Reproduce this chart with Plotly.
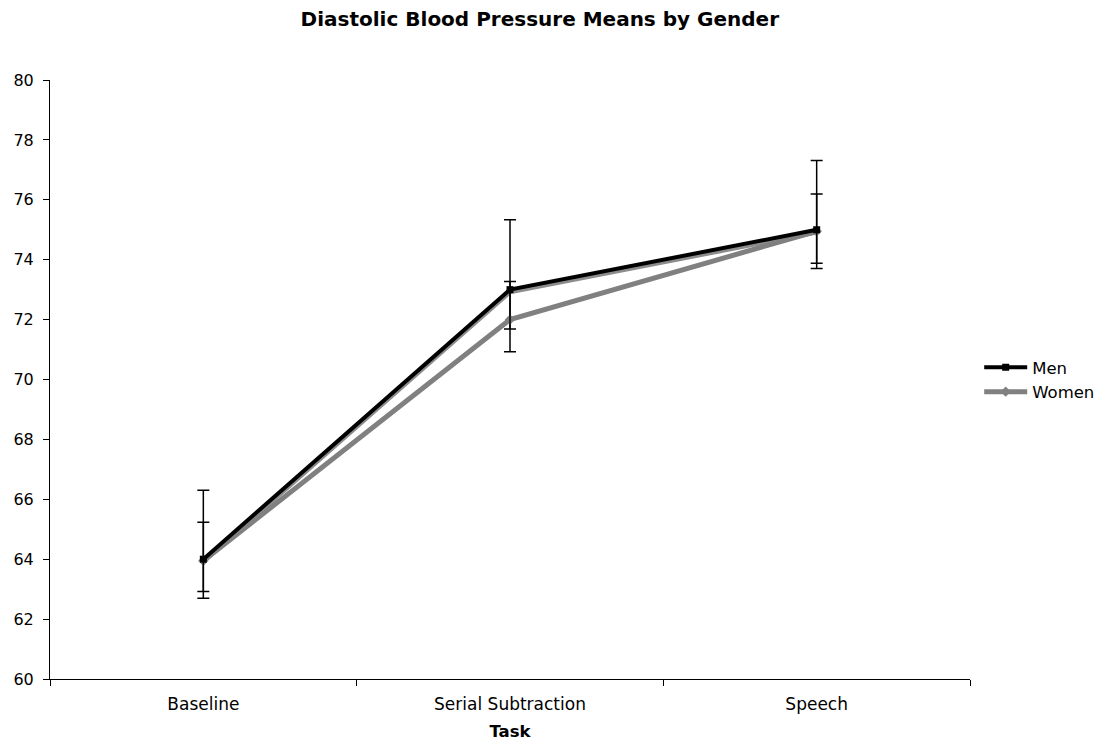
import plotly.graph_objects as go

tasks = ["Baseline", "Serial Subtraction", "Speech"]
men = [64.0, 73.0, 75.0]
women = [63.95, 72.0, 74.95]
men_err_plus = [2.3, 2.33, 2.31]
men_err_minus = [1.3, 1.31, 1.29]
women_err_plus = [1.28, 1.27, 1.24]
women_err_minus = [1.03, 1.07, 1.07]

FONT = "DejaVu Sans, Verdana, sans-serif"

fig = go.Figure()

# subtle shadow under the Men line
fig.add_trace(go.Scatter(
    x=tasks, y=[v - 0.09 for v in men], mode="lines",
    line=dict(color="#8c8c8c", width=4), showlegend=False, hoverinfo="skip"))

fig.add_trace(go.Scatter(
    x=tasks, y=women, mode="lines+markers", name="Women",
    line=dict(color="#808080", width=5),
    marker=dict(symbol="diamond", size=8, color="#808080"),
    error_y=dict(type="data", symmetric=False, array=women_err_plus,
                 arrayminus=women_err_minus, color="black", thickness=1.5, width=6)))

fig.add_trace(go.Scatter(
    x=tasks, y=men, mode="lines+markers", name="Men",
    line=dict(color="black", width=4),
    marker=dict(symbol="square", size=7, color="black"),
    error_y=dict(type="data", symmetric=False, array=men_err_plus,
                 arrayminus=men_err_minus, color="black", thickness=1.5, width=6)))

fig.update_layout(
    width=1113, height=744,
    margin=dict(l=50, r=143, t=80, b=65),
    paper_bgcolor="white", plot_bgcolor="white",
    font=dict(family=FONT, size=16, color="black"),
    title=dict(text="<b>Diastolic Blood Pressure Means by Gender</b>",
               x=0.485, xanchor="center", y=0.984, yanchor="top",
               font=dict(family=FONT, size=20, color="black")),
    legend=dict(x=1.01, y=0.5, xanchor="left", yanchor="middle",
                font=dict(family=FONT, size=16.5), traceorder="reversed",
                itemwidth=43, bgcolor="rgba(0,0,0,0)"),
    showlegend=True,
)

fig.update_xaxes(
    type="category", range=[-0.5, 2.5], automargin=False,
    showline=True, linecolor="black", linewidth=1,
    ticks="outside", tickson="boundaries", ticklen=6, tickcolor="black",
    showgrid=False, zeroline=False, ticklabelstandoff=10,
    title=dict(text="<b>Task</b>", font=dict(family=FONT, size=16.5), standoff=12),
    tickfont=dict(family=FONT, size=17))

fig.update_yaxes(
    range=[60, 80], dtick=2, tick0=60, automargin=False,
    showline=True, linecolor="black", linewidth=1,
    ticks="outside", ticklen=6, tickcolor="black",
    showgrid=False, zeroline=False, ticklabelstandoff=6,
    tickfont=dict(family=FONT, size=16))

fig.write_html("out.html")
